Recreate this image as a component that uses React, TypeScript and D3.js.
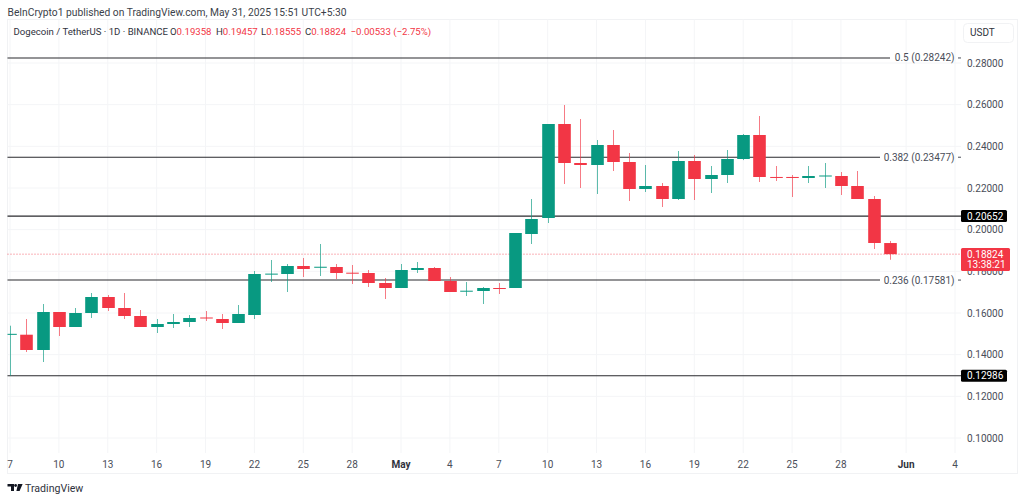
import React from "react";
import * as d3 from "d3";

// one entry per daily candle, 7 Apr to 31 May 2025
const opens = [
  0.1499, 0.14958, 0.14224, 0.16048, 0.15328, 0.16, 0.16768, 0.1624, 0.15856, 0.15328, 0.15472,
  0.15568, 0.15784, 0.15712, 0.1552, 0.15904, 0.1787, 0.17872, 0.18256, 0.18208, 0.18208, 0.17935,
  0.1792, 0.1744, 0.172, 0.18064, 0.1816, 0.17536, 0.1705, 0.17056, 0.172, 0.172, 0.19792, 0.2056,
  0.25072, 0.232, 0.23104, 0.24064, 0.23248, 0.21952, 0.22096, 0.21472, 0.23296, 0.22432, 0.22624,
  0.23392, 0.24544, 0.2253, 0.2253, 0.2248, 0.2258, 0.22576, 0.22096, 0.21472, 0.19358,
];
const highs = [
  0.1539, 0.15712, 0.16432, 0.16048, 0.1624, 0.1696, 0.16864, 0.1696, 0.16144, 0.15712, 0.15952,
  0.15904, 0.16096, 0.15952, 0.16384, 0.18016, 0.18544, 0.18352, 0.1864, 0.19312, 0.18352, 0.18304,
  0.18064, 0.1768, 0.18352, 0.18448, 0.18208, 0.17728, 0.17488, 0.17248, 0.1744, 0.1984, 0.21472,
  0.25072, 0.25984, 0.25312, 0.24304, 0.24784, 0.2368, 0.23104, 0.2224, 0.23776, 0.23584, 0.23056,
  0.23824, 0.24592, 0.25456, 0.23056, 0.22624, 0.23056, 0.232, 0.22768, 0.22816, 0.21616, 0.19457,
];
const lows = [
  0.1299, 0.14128, 0.13648, 0.14896, 0.15328, 0.1576, 0.16096, 0.15712, 0.15328, 0.1504, 0.1528,
  0.15328, 0.15616, 0.15232, 0.1552, 0.15712, 0.17488, 0.17008, 0.17728, 0.17776, 0.17632, 0.17392,
  0.17248, 0.16672, 0.172, 0.1792, 0.17536, 0.17008, 0.16816, 0.16432, 0.16912, 0.172, 0.19312,
  0.2032, 0.22192, 0.22, 0.21712, 0.22816, 0.21376, 0.21808, 0.21088, 0.21424, 0.21424, 0.2176,
  0.2224, 0.2334, 0.22288, 0.22336, 0.21568, 0.2224, 0.22, 0.21664, 0.21472, 0.19072, 0.18555,
];
const closes = [
  0.15, 0.14224, 0.16048, 0.15328, 0.16, 0.16768, 0.1624, 0.15856, 0.15328, 0.15472, 0.15568,
  0.1576, 0.15736, 0.1552, 0.15952, 0.17872, 0.1789, 0.18256, 0.18112, 0.1822, 0.1792, 0.1793,
  0.1744, 0.172, 0.18064, 0.1816, 0.17536, 0.17008, 0.1707, 0.172, 0.1719, 0.1984, 0.20512, 0.25072,
  0.232, 0.23104, 0.24064, 0.23248, 0.21952, 0.22096, 0.21472, 0.23296, 0.22432, 0.22624, 0.23392,
  0.24544, 0.22528, 0.2252, 0.2251, 0.22576, 0.226, 0.22096, 0.21472, 0.1936, 0.18824,
];

const priceTicks = [0.28, 0.26, 0.24, 0.22, 0.2, 0.18, 0.16, 0.14, 0.12, 0.1];

// day offset from 7 Apr
const dayTicks = [0, 3, 6, 9, 12, 15, 18, 21, 24, 27, 30, 33, 36, 39, 42, 45, 48, 51, 55, 58];
const dayLabels = ["7", "10", "13", "16", "19", "22", "25", "28", "May", "4", "7", "10", "13", "16", "19", "22", "25", "28", "Jun", "4"];

const fibPrices = [0.28242, 0.23477, 0.17581];
const fibNames = ["0.5", "0.382", "0.236"];
const markedPrices = [0.20652, 0.12986];
const lastPrice = 0.18824;

const UP = "#089981";
const DOWN = "#F23645";
const GRID = "#f4f5f7";
const TEXT = "#4a4e59";
const FONT = "Roboto, 'Noto Sans', sans-serif";

const x = d3.scaleLinear().domain([0, 58]).range([10, 955]);
const y = d3.scaleLinear().domain([0.1, 0.28]).range([438, 63]);

const fmt = d3.format(".5f");

const App: React.FC = () => {
  return (
    <svg
      width={1024}
      height={500}
      style={{ position: "absolute", left: 0, top: 0, background: "#fff" }}
      fontFamily={FONT}
    >
      <defs>
        <clipPath id="pane">
          <rect x={7.5} y={19} width={953} height={434} />
        </clipPath>
      </defs>

      <text x={7.5} y={15.5} fontSize={10.25} fill="#3b3f4a">
        BeInCrypto1 published on TradingView.com, May 31, 2025 15:51 UTC+5:30
      </text>

      {/* frame */}
      <rect x={7.5} y={19.5} width={1010} height={454} fill="none" stroke="#f1f2f4" />

      {/* grid */}
      {priceTicks.map((p) => (
        <line key={p} x1={7.5} x2={961} y1={y(p)} y2={y(p)} stroke={GRID} />
      ))}
      {dayTicks.map((d) => (
        <line key={d} x1={x(d)} x2={x(d)} y1={19.5} y2={453} stroke={GRID} />
      ))}

      {/* levels */}
      {fibPrices.map((p, i) => (
        <g key={p}>
          <line
            x1={7.5}
            x2={i === 0 ? 890 : 880}
            y1={y(p)}
            y2={y(p)}
            stroke="#2a2a2e"
            strokeWidth={1.1}
          />
          <text x={954.5} y={y(p) + 3.5} fontSize={10} fill={TEXT} textAnchor="end">
            {fibNames[i]} ({fmt(p)})
          </text>
          <line x1={958} x2={961} y1={y(p)} y2={y(p)} stroke={TEXT} />
        </g>
      ))}
      {markedPrices.map((p) => (
        <line key={p} x1={7.5} x2={961} y1={y(p)} y2={y(p)} stroke="#2a2a2e" strokeWidth={1.1} />
      ))}
      <line
        x1={7.5}
        x2={961}
        y1={y(lastPrice)}
        y2={y(lastPrice)}
        stroke={DOWN}
        strokeWidth={1}
        strokeDasharray="1 2"
        opacity={0.75}
      />

      {/* candles */}
      <g clipPath="url(#pane)">
        {closes.map((c, i) => {
          const o = opens[i];
          const color = c >= o ? UP : DOWN;
          const cx = Math.round(x(i)) + 0.5;
          const top = y(Math.max(o, c));
          const h = Math.max(y(Math.min(o, c)) - top, 1);
          return (
            <g key={i}>
              <line x1={cx} x2={cx} y1={y(highs[i])} y2={y(lows[i])} stroke={color} opacity={0.65} />
              <rect x={cx - 6.3} y={top} width={12.6} height={h} fill={color} />
            </g>
          );
        })}
      </g>

      {/* legend */}
      <text x={13.5} y={35} fontSize={9.6} fill="#2f323c">
        Dogecoin / TetherUS · 1D · BINANCE
      </text>
      <text y={35} fontSize={9.6} fill={DOWN}>
        <tspan x={170} fill="#2f323c">O</tspan>
        <tspan>0.19358</tspan>
        <tspan x={216} fill="#2f323c">H</tspan>
        <tspan>0.19457</tspan>
        <tspan x={261} fill="#2f323c">L</tspan>
        <tspan>0.18555</tspan>
        <tspan x={305} fill="#2f323c">C</tspan>
        <tspan>0.18824</tspan>
        <tspan x={350.5}>−0.00533 (−2.75%)</tspan>
      </text>

      {/* price axis */}
      <rect x={963.5} y={23.5} width={50} height={19} rx={4} fill="#fff" stroke="#f1f2f4" />
      <text x={970} y={36} fontSize={10} fill="#2f323c">USDT</text>
      {priceTicks.map((p) => (
        <text key={p} x={967} y={y(p) + 3.5} fontSize={10} fill={TEXT}>
          {fmt(p)}
        </text>
      ))}
      {markedPrices.map((p) => (
        <g key={p}>
          <rect x={961} y={y(p) - 6} width={46} height={12} rx={1.5} fill="#000" />
          <text x={967} y={y(p) + 3.5} fontSize={10} fill="#fff">
            {fmt(p)}
          </text>
        </g>
      ))}
      <rect x={961} y={248} width={49} height={23} rx={1.5} fill={DOWN} />
      <text x={967} y={257.5} fontSize={10} fill="#fff">{fmt(lastPrice)}</text>
      <text x={967} y={268} fontSize={10} fill="#fff">13:38:21</text>

      {/* time axis */}
      {dayTicks.map((d, i) => {
        const label = dayLabels[i];
        const bold = label === "May" || label === "Jun";
        return (
          <text
            key={d}
            x={x(d)}
            y={468}
            fontSize={10}
            textAnchor="middle"
            fontWeight={bold ? 700 : 400}
            fill={bold ? "#2f323c" : TEXT}
          >
            {label}
          </text>
        );
      })}

      {/* TradingView mark */}
      <g fill="#131722">
        <path d="M7.5 484h6.5v7h-3v-4.4H7.5z" />
        <circle cx={15.6} cy={485.5} r={1.4} />
        <path d="M18 484h4.6l-3 7h-3.2z" />
      </g>
      <text x={25} y={491.5} fontSize={10.6} fill="#2f323c">TradingView</text>
    </svg>
  );
};

export default App;
